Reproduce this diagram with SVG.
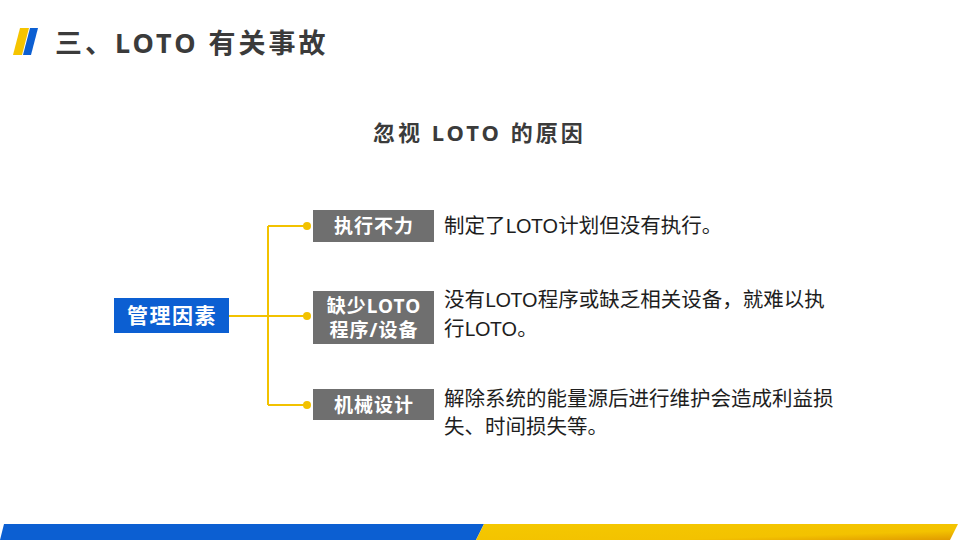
<svg xmlns="http://www.w3.org/2000/svg" width="960" height="540" viewBox="0 0 960 540">
<style>
.t{font-family:"Noto Sans","Noto Sans CJK SC",sans-serif;}
.title{font-size:27px;font-weight:bold;fill:#3b3b3b;letter-spacing:3px;}
.sub{font-size:22px;font-weight:bold;fill:#3b3b3b;letter-spacing:3px;}
.gbox{fill:#6f6f6f;}
.glbl{font-size:19px;font-weight:bold;fill:#ffffff;letter-spacing:1px;}
.desc{font-size:20.5px;fill:#1e1e1e;}
.conn{stroke:#f2c200;stroke-width:2;fill:none;}
.dot{fill:#f2c200;}
</style>
<defs>
<linearGradient id="yg" x1="0" y1="0" x2="1" y2="1">
<stop offset="0" stop-color="#f5c800"/>
<stop offset="0.7" stop-color="#f3c200"/>
<stop offset="1" stop-color="#e09a00"/>
</linearGradient>
</defs>
<rect width="960" height="540" fill="#ffffff"/>
<g id="title-icon">
<polygon points="20,28 29,28 22,55 13,55" fill="#f5c400"/>
<polygon points="30,28 38,28 31,55 23,55" fill="#0c5fd2"/>
</g>
<text class="t title" x="55" y="53">三、LOTO 有关事故</text>
<text class="t sub" x="373" y="141">忽视 LOTO 的原因</text>
<g id="connectors">
<path class="conn" d="M229,316 H268 M268,226 V405 M268,226 H307 M268,316 H307 M268,405 H307"/>
<circle class="dot" cx="307" cy="226" r="4"/>
<circle class="dot" cx="307" cy="316" r="4"/>
<circle class="dot" cx="307" cy="405" r="4"/>
</g>
<g id="root">
<rect x="114" y="298" width="115" height="35" fill="#0c5fd2"/>
<text class="t" x="172" y="323" text-anchor="middle" font-size="21" font-weight="bold" fill="#ffffff" letter-spacing="1.5">管理因素</text>
</g>
<g id="n1">
<rect class="gbox" x="313" y="210" width="121" height="32"/>
<text class="t glbl" x="374" y="233" text-anchor="middle">执行不力</text>
<text class="t desc" x="444" y="233">制定了LOTO计划但没有执行。</text>
</g>
<g id="n2">
<rect class="gbox" x="313" y="291" width="121" height="53"/>
<text class="t glbl" x="374" y="313" text-anchor="middle">缺少LOTO</text>
<text class="t glbl" x="374" y="337" text-anchor="middle">程序/设备</text>
<text class="t desc" x="444" y="307">没有LOTO程序或缺乏相关设备，就难以执</text>
<text class="t desc" x="444" y="336">行LOTO。</text>
</g>
<g id="n3">
<rect class="gbox" x="313" y="389" width="121" height="31"/>
<text class="t glbl" x="374" y="412" text-anchor="middle">机械设计</text>
<text class="t desc" x="444" y="406">解除系统的能量源后进行维护会造成利益损</text>
<text class="t desc" x="444" y="434">失、时间损失等。</text>
</g>
<g id="footer">
<polygon points="4,524 484,524 476,540 0,540" fill="#0c5fd2"/>
<polygon points="484,524 958,524 950,540 476,540" fill="url(#yg)"/>
</g>
</svg>
